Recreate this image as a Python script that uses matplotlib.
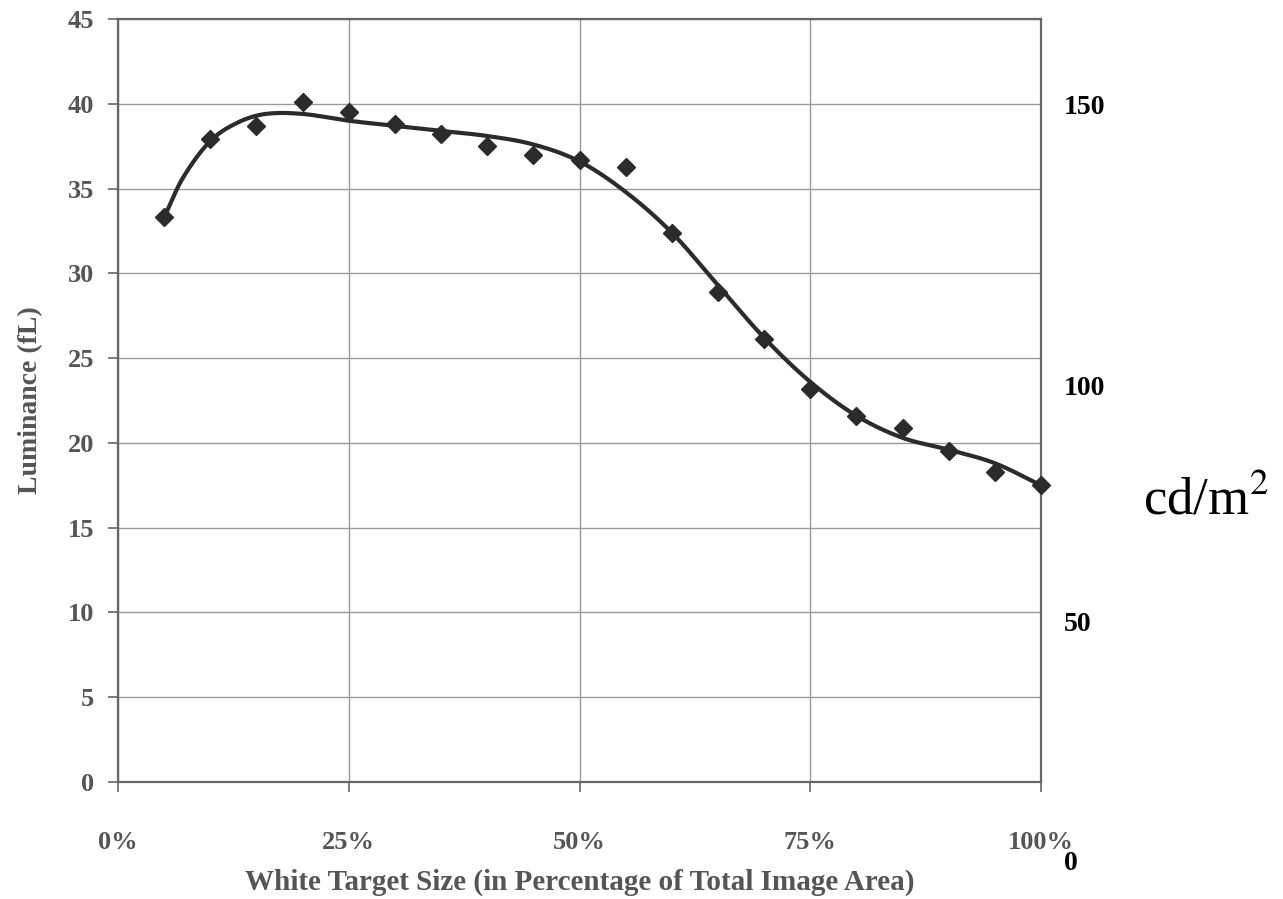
import numpy as np
import matplotlib
matplotlib.use("Agg")
import matplotlib.pyplot as plt

# measured points (white target size in %, luminance in fL)
target_size = [5, 10, 15, 20, 25, 30, 35, 40, 45, 50,
               55, 60, 65, 70, 75, 80, 85, 90, 95, 100]
luminance = [33.3, 37.9, 38.7, 40.1, 39.5, 38.8, 38.2, 37.5, 37.0, 36.7,
             36.3, 32.4, 28.9, 26.1, 23.2, 21.6, 20.9, 19.5, 18.3, 17.5]

# smooth trend line
trend_x = [5, 7, 10, 13, 16, 20, 25, 30, 35, 40, 45, 50, 55,
           60, 65, 70, 75, 80, 85, 90, 95, 100]
trend_y = [33.3, 35.6, 37.8, 38.9, 39.4, 39.4, 39.0, 38.7, 38.4, 38.1, 37.6, 36.6, 34.8,
           32.4, 29.3, 26.2, 23.6, 21.6, 20.3, 19.6, 18.8, 17.5]

# secondary cd/m2 labels pasted beside the plot (label, fL position)
cd_labels = ["150", "100", "50", "0"]
cd_pos = [39.8, 23.2, 9.3, -4.8]

xticks = [0, 25, 50, 75, 100]
xticklabels = ["0%", "25%", "50%", "75%", "100%"]
yticks = list(range(0, 50, 5))

serif = ["Liberation Serif", "DejaVu Serif"]
grey = "#555555"

fig = plt.figure(figsize=(12.83, 8.99), dpi=100)
ax = fig.add_axes([118 / 1283, 1 - 782 / 899, 923 / 1283, 763 / 899])

# Hermite smoothing through the read trend values
tx = np.array(trend_x, dtype=float)
ty = np.array(trend_y, dtype=float)
pts_x, pts_y = [], []
for i in range(len(tx) - 1):
    p0 = ty[i - 1] if i > 0 else ty[i]
    p1, p2 = ty[i], ty[i + 1]
    p3 = ty[i + 2] if i + 2 < len(ty) else ty[i + 1]
    x0 = tx[i - 1] if i > 0 else tx[i]
    x3 = tx[i + 2] if i + 2 < len(tx) else tx[i + 1]
    h = tx[i + 1] - tx[i]
    m1 = (p2 - p0) / (tx[i + 1] - x0) * h
    m2 = (p3 - p1) / (x3 - tx[i]) * h
    t = np.linspace(0, 1, 20, endpoint=False)
    h00 = 2 * t**3 - 3 * t**2 + 1
    h10 = t**3 - 2 * t**2 + t
    h01 = -2 * t**3 + 3 * t**2
    h11 = t**3 - t**2
    pts_x.extend(tx[i] + t * h)
    pts_y.extend(h00 * p1 + h10 * m1 + h01 * p2 + h11 * m2)
pts_x.append(tx[-1])
pts_y.append(ty[-1])

ax.plot(pts_x, pts_y, color="#2b2b2b", lw=3, zorder=3, clip_on=False)
ax.plot(target_size, luminance, linestyle="none", marker="D", markersize=9,
        color="#2b2b2b", zorder=4, clip_on=False)

ax.set_xlim(0, 100)
ax.set_ylim(0, 45)
ax.set_xticks(xticks)
ax.set_xticklabels(xticklabels)
ax.set_yticks(yticks)
ax.grid(True, color="#9a9a9a", lw=1)
ax.set_axisbelow(True)
for s in ax.spines.values():
    s.set_color("#666666")
    s.set_linewidth(1.6)
ax.tick_params(axis="both", direction="out", length=7, color="#666666",
               width=1.2, labelcolor=grey)
ax.tick_params(axis="x", pad=28)
ax.tick_params(axis="y", pad=10)
for lab in ax.get_xticklabels() + ax.get_yticklabels():
    lab.set_fontfamily(serif)
    lab.set_fontweight("bold")
    lab.set_fontsize(19)

ax.set_xlabel("White Target Size (in Percentage of Total Image Area)",
              fontfamily=serif, fontweight="bold", fontsize=21, color=grey,
              labelpad=11)
ax.set_ylabel("Luminance (fL)", fontfamily=serif, fontweight="bold",
              fontsize=20, color=grey, labelpad=18)

for lab, pos in zip(cd_labels, cd_pos):
    ax.text(102.5, pos, lab, fontfamily=serif, fontweight="bold", fontsize=20,
            color="black", ha="left", va="center", clip_on=False)
ax.text(111, 16.6, "cd/m$^2$", fontfamily=serif, fontsize=38, color="black",
        ha="left", va="center", clip_on=False, math_fontfamily="stix")

fig.savefig("out.png", dpi=100, facecolor="white")
